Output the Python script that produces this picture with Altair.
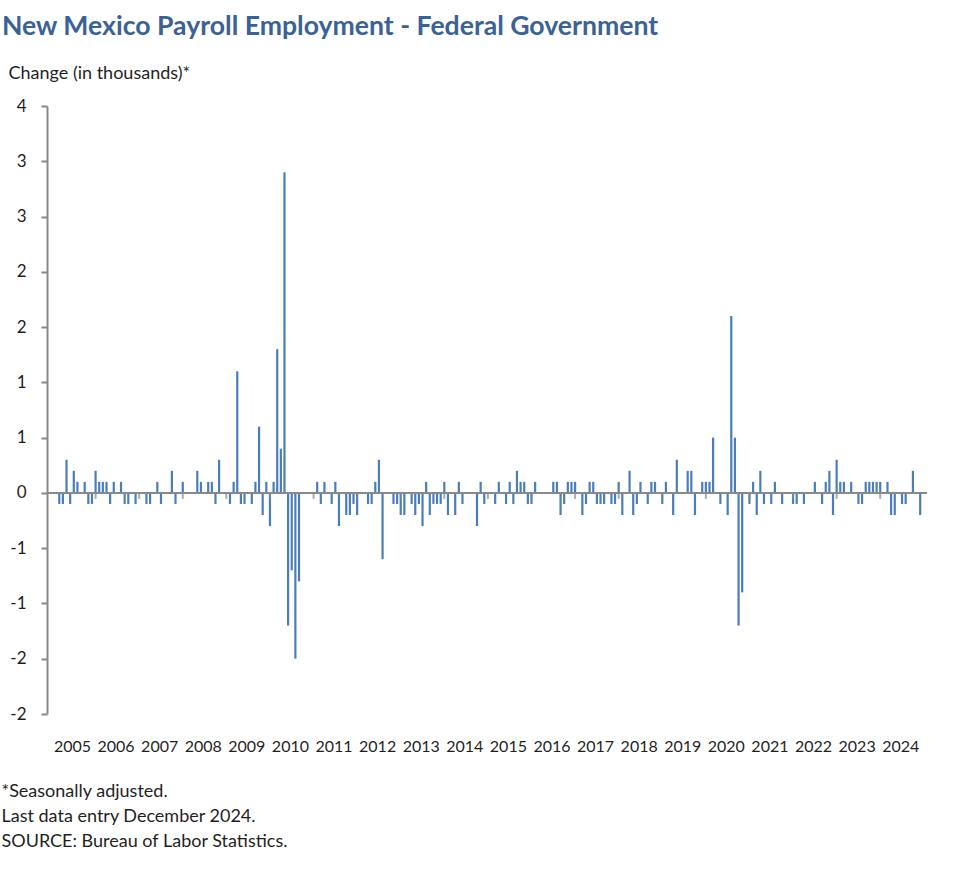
import altair as alt
import pandas as pd

title_text = "New Mexico Payroll Employment - Federal Government"
y_title = "Change (in thousands)*"
notes = ["*Seasonally adjusted.", "Last data entry December  2024.", "SOURCE: Bureau of Labor Statistics."]

years = list(range(2005, 2025))
y_ticks = [-2, -1.5, -1, -0.5, 0, 0.5, 1, 1.5, 2, 2.5, 3, 3.5]

# monthly over-the-month change (thousands), Jan 2005 .. Dec 2024, 12 per row
monthly_change = [
    0.0, 0.0, -0.1, -0.1, 0.3, -0.1, 0.2, 0.1, 0.0, 0.1, -0.1, -0.1,   # 2005
    0.2, 0.1, 0.1, 0.1, -0.1, 0.1, 0.0, 0.1, -0.1, -0.1, 0.0, -0.1,    # 2006
    0.0, 0.0, -0.1, -0.1, 0.0, 0.1, -0.1, 0.0, 0.0, 0.2, -0.1, 0.0,    # 2007
    0.1, 0.0, 0.0, 0.0, 0.2, 0.1, 0.0, 0.1, 0.1, -0.1, 0.3, 0.0,       # 2008
    0.0, -0.1, 0.1, 1.1, -0.1, -0.1, 0.0, -0.1, 0.1, 0.6, -0.2, 0.1,   # 2009
    -0.3, 0.1, 1.3, 0.4, 2.9, -1.2, -0.7, -1.5, -0.8, 0.0, 0.0, 0.0,   # 2010
    0.0, 0.1, -0.1, 0.1, 0.0, -0.1, 0.1, -0.3, 0.0, -0.2, -0.2, -0.1,  # 2011
    -0.2, 0.0, 0.0, -0.1, -0.1, 0.1, 0.3, -0.6, 0.0, 0.0, -0.1, -0.1,  # 2012
    -0.2, -0.2, 0.0, -0.1, -0.2, -0.1, -0.3, 0.1, -0.2, -0.1, -0.1, -0.1,  # 2013
    0.1, -0.2, 0.0, -0.2, 0.1, -0.1, 0.0, 0.0, 0.0, -0.3, 0.1, -0.1,   # 2014
    0.0, 0.0, -0.1, 0.1, 0.0, -0.1, 0.1, -0.1, 0.2, 0.1, 0.1, -0.1,    # 2015
    -0.1, 0.1, 0.0, 0.0, 0.0, 0.0, 0.1, 0.1, -0.2, -0.1, 0.1, 0.1,     # 2016
    0.1, 0.0, -0.2, -0.1, 0.1, 0.1, -0.1, -0.1, -0.1, 0.0, -0.1, -0.1, # 2017
    0.1, -0.2, 0.0, 0.2, -0.2, -0.1, 0.1, 0.0, -0.1, 0.1, 0.1, 0.0,    # 2018
    -0.1, 0.1, 0.0, -0.2, 0.3, 0.0, 0.0, 0.2, 0.2, -0.2, 0.0, 0.1,     # 2019
    0.1, 0.1, 0.5, 0.0, -0.1, 0.0, -0.2, 1.6, 0.5, -1.2, -0.9, 0.0,    # 2020
    -0.1, 0.1, -0.2, 0.2, -0.1, 0.0, -0.1, 0.1, 0.0, -0.1, 0.0, 0.0,   # 2021
    -0.1, -0.1, 0.0, -0.1, 0.0, 0.0, 0.1, 0.0, -0.1, 0.1, 0.2, -0.2,   # 2022
    0.3, 0.1, 0.1, 0.0, 0.1, 0.0, -0.1, -0.1, 0.1, 0.1, 0.1, 0.1,      # 2023
    0.1, 0.0, 0.1, -0.2, -0.2, 0.0, -0.1, -0.1, 0.0, 0.2, 0.0, -0.2,   # 2024
]

bars_df = pd.DataFrame({"m": list(range(len(monthly_change))), "change": monthly_change})
ticks_df = pd.DataFrame({"m": [12 * k for k in range(1, len(years))], "zero": 0})

FONT = "Lato"
TEXT = "#1f1f1f"
GRAY = "#898989"
BLUE = "#4A7EBB"

x_scale = alt.Scale(domain=[0, 239.5], nice=False, zero=False)
y_scale = alt.Scale(domain=[y_ticks[0], y_ticks[-1]], nice=False)

x_axis = alt.Axis(
    values=[12 * k + 5.5 for k in range(len(years))],
    labelExpr=f"'' + ({years[0]} + floor(datum.value / 12))",
    domain=False, ticks=False, grid=False,
    labelPadding=24, labelFont=FONT, labelFontSize=16, labelColor=TEXT,
    labelOverlap=False, labelFlush=False,
    title=notes, titleFont=FONT, titleFontSize=18, titleFontWeight="normal",
    titleColor=TEXT, titleAnchor="start", titleAlign="left", titleBaseline="top",
    titleX=-46, titleY=68, titleLineHeight=25,
)
y_axis = alt.Axis(
    values=y_ticks,
    labelExpr="(datum.value < 0 ? '-' : '') + round(abs(datum.value))",
    grid=False, domainColor=GRAY, domainWidth=2, tickColor=GRAY, tickWidth=2,
    tickSize=6, labelPadding=15, labelFont=FONT, labelFontSize=17, labelColor=TEXT,
    title=y_title, titleFont=FONT, titleFontSize=18, titleFontWeight="normal",
    titleColor=TEXT, titleAngle=0, titleAlign="left", titleBaseline="middle",
    titleX=-39, titleY=-33,
)

bars = alt.Chart(bars_df).mark_bar(size=2.2, color=BLUE).encode(
    x=alt.X("m:Q", scale=x_scale, axis=x_axis),
    y=alt.Y("change:Q", scale=y_scale, axis=y_axis),
)

zero_line = alt.Chart(bars_df).mark_rule(color=GRAY, strokeWidth=2).encode(
    y=alt.datum(0, scale=y_scale)
)

year_ticks = alt.Chart(ticks_df).mark_tick(
    orient="vertical", size=6, thickness=2, color=GRAY, yOffset=3
).encode(
    x=alt.X("m:Q", scale=x_scale),
    y=alt.Y("zero:Q", scale=y_scale),
)

chart = alt.layer(bars, zero_line, year_ticks).properties(
    width=880,
    height=608,
    autosize=alt.AutoSizeParams(type="none"),
    padding={"left": 47, "top": 106, "right": 52, "bottom": 163},
    title=alt.Title(
        text=title_text, anchor="start", frame="group", font=FONT, fontSize=26.6,
        fontWeight="bold", color="#3B6296", dx=-45, dy=-19,
    ),
).configure(background="white").configure_view(stroke=None)

chart.save("out.html", embed_options={"renderer": "svg", "actions": False})
